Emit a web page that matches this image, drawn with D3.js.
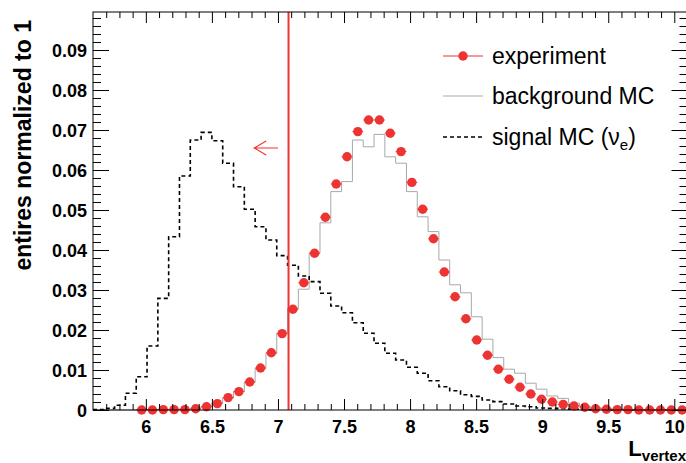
<!DOCTYPE html>
<html><head><meta charset="utf-8">
<script src="https://cdn.jsdelivr.net/npm/d3@7"></script>
<style>html,body{margin:0;padding:0;background:#fff;}svg{display:block;}</style>
</head><body>
<svg id="c" width="686" height="463"></svg>
<script>
// histogram binning (55 bins from 5.6 to 10.1)
const binLow = 5.6, binHigh = 10.1, nBins = 55;
// experiment (bins 0..54), null = not drawn
const experiment = [null,null,null,null,
  0.0000,0.0000,0.0001,0.0001,0.0001,0.0003,0.0008,0.0016,0.0031,0.0046,
  0.0070,0.0105,0.0143,0.0191,0.0252,0.0318,0.0392,0.0482,0.0565,0.0633,
  0.0696,0.0725,0.0725,0.0692,0.0646,0.0569,0.0502,0.0428,0.0345,0.0283,
  0.0228,0.0175,0.0137,0.0102,0.0077,0.0057,0.0040,0.0027,0.0020,0.0014,
  0.0010,0.0007,0.0003,0.0002,0.0001,0.0001,0.0000,0.0000,0.0000,0.0000,0.0000];
const backgroundMC = [0,0,0,0,
  0.0001,0.0001,0.0002,0.0002,0.0003,0.0005,0.0009,0.0017,0.0030,0.0046,
  0.0069,0.0104,0.0142,0.0192,0.0254,0.0302,0.0392,0.0468,0.0546,0.0571,
  0.0675,0.0658,0.0689,0.0633,0.0617,0.0546,0.0483,0.0446,0.0375,0.0313,
  0.0293,0.0233,0.0177,0.0131,0.0102,0.0092,0.0067,0.0052,0.0035,0.0029,
  0.0017,0.0010,0.0006,0.0004,0.0002,0.0001,0,0,0,0,0];
const signalMC = [0.0001,0.0004,0.0012,0.0042,
  0.0083,0.0160,0.0279,0.0433,0.0585,0.0675,0.0694,0.0673,0.0617,0.0558,
  0.0502,0.0458,0.0425,0.0386,0.0362,0.0335,0.0321,0.0292,0.0260,0.0243,
  0.0218,0.0192,0.0167,0.0142,0.0125,0.0107,0.0092,0.0073,0.0058,0.0048,
  0.0038,0.0034,0.0025,0.0021,0.0015,0.0010,0.0008,0.0005,0.0004,0.0003,
  0.0002,0.0001,0,0,0,0,0,0,0,0,0];
const xTickValues = [6,6.5,7,7.5,8,8.5,9,9.5,10];
const xTickLabels = ["6","6.5","7","7.5","8","8.5","9","9.5","10"];
const yTickValues = [0,0.01,0.02,0.03,0.04,0.05,0.06,0.07,0.08,0.09];
const yTickLabels = ["0","0.01","0.02","0.03","0.04","0.05","0.06","0.07","0.08","0.09"];
const cutValue = 7.08;
const arrowFrom = 7.0, arrowTo = 6.82, arrowLevel = 0.0655;
const legendItems = ["experiment","background MC","signal MC"];

const svg = d3.select("#c");
const L = 93, R = 687.5, T = 12, B = 410;
const x = d3.scaleLinear().domain([binLow, binHigh]).range([L, R]);
const y = d3.scaleLinear().domain([0, 0.0995]).range([B, T]);
const bw = (binHigh - binLow) / nBins;
const edge = i => binLow + i * bw;

const RED = "#ee3333";
const bold = "'Liberation Sans', Arial, Helvetica, sans-serif";

function stepPath(vals) {
  let p = `M${x(edge(0))},${y(vals[0])}`;
  vals.forEach((v, i) => {
    p += `L${x(edge(i))},${y(v)}L${x(edge(i + 1))},${y(v)}`;
  });
  return p;
}

// background MC
svg.append("path").attr("d", stepPath(backgroundMC))
  .attr("fill", "none").attr("stroke", "#a8a8a8").attr("stroke-width", 1);

// signal MC
svg.append("path").attr("d", stepPath(signalMC))
  .attr("fill", "none").attr("stroke", "#000").attr("stroke-width", 1.6)
  .attr("stroke-dasharray", "4,3");

// experiment
const expPts = experiment.map((v, i) => ({ v, i })).filter(d => d.v !== null);
svg.append("g").selectAll("line").data(expPts).join("line")
  .attr("x1", d => x(edge(d.i))).attr("x2", d => x(edge(d.i + 1)))
  .attr("y1", d => y(d.v)).attr("y2", d => y(d.v))
  .attr("stroke", RED).attr("stroke-width", 1);
svg.append("g").selectAll("circle").data(expPts).join("circle")
  .attr("cx", d => x(edge(d.i) + bw / 2)).attr("cy", d => y(d.v))
  .attr("r", 4.7).attr("fill", RED);

// cut line
svg.append("line").attr("x1", x(cutValue)).attr("x2", x(cutValue))
  .attr("y1", T).attr("y2", B).attr("stroke", RED).attr("stroke-width", 2);
// arrow
const ay = y(arrowLevel), ax0 = x(arrowFrom), ax1 = x(arrowTo);
svg.append("path")
  .attr("d", `M${ax0},${ay}L${ax1},${ay}M${ax1 + 12},${ay - 7}L${ax1},${ay}L${ax1 + 12},${ay + 7}`)
  .attr("fill", "none").attr("stroke", RED).attr("stroke-width", 1.1);

// frame
svg.append("rect").attr("x", L).attr("y", T).attr("width", R - L).attr("height", B - T)
  .attr("fill", "none").attr("stroke", "#000").attr("stroke-width", 1);

// axes ticks
const xMinor = d3.range(57, 101).map(k => k / 10).filter(v => Math.abs(v * 2 - Math.round(v * 2)) > 1e-6);
const yMinor = d3.range(1, 50).map(k => k * 0.002).filter(v => Math.abs(v * 100 - Math.round(v * 100)) > 1e-6);

function addAxis(axis, tr) {
  const g = svg.append("g").attr("transform", tr).call(axis);
  g.select(".domain").remove();
  g.selectAll("line").attr("stroke", "#000").attr("stroke-width", 1);
  return g;
}
const gxb = addAxis(d3.axisBottom(x).tickValues(xTickValues).tickSize(-11)
  .tickFormat((d, i) => xTickLabels[i]), `translate(0,${B})`);
gxb.selectAll("text").attr("y", 10).attr("dy", "0.71em")
  .attr("font-family", bold).attr("font-weight", "bold").attr("font-size", 18).attr("fill", "#000");
addAxis(d3.axisBottom(x).tickValues(xMinor).tickSize(-6).tickFormat(""), `translate(0,${B})`);
addAxis(d3.axisTop(x).tickValues(xTickValues).tickSize(-11).tickFormat(""), `translate(0,${T})`);
addAxis(d3.axisTop(x).tickValues(xMinor).tickSize(-6).tickFormat(""), `translate(0,${T})`);

const gyl = addAxis(d3.axisLeft(y).tickValues(yTickValues).tickSize(-16)
  .tickFormat((d, i) => yTickLabels[i]), `translate(${L},0)`);
gyl.selectAll("text").attr("x", -6).attr("dy", "0.35em").attr("text-anchor", "end")
  .attr("font-family", bold).attr("font-weight", "bold").attr("font-size", 18).attr("fill", "#000");
addAxis(d3.axisLeft(y).tickValues(yMinor).tickSize(-8).tickFormat(""), `translate(${L},0)`);
addAxis(d3.axisRight(y).tickValues(yTickValues).tickSize(-16).tickFormat(""), `translate(${R},0)`);
addAxis(d3.axisRight(y).tickValues(yMinor).tickSize(-8).tickFormat(""), `translate(${R},0)`);

// axis titles
svg.append("text").attr("transform", "translate(31,20) rotate(-90)")
  .attr("text-anchor", "end").attr("font-family", bold).attr("font-weight", "bold")
  .attr("font-size", 23).text("entires normalized to 1");
const xt = svg.append("text").attr("x", 686).attr("y", 456).attr("text-anchor", "end")
  .attr("font-family", bold).attr("font-weight", "bold");
xt.append("tspan").attr("font-size", 22).text("L");
xt.append("tspan").attr("font-size", 15).attr("dy", 5).text("vertex");

// legend
const lx0 = 443, lx1 = 483, ly = [56, 96, 137];
const lg = svg.append("g");
lg.append("line").attr("x1", lx0).attr("x2", lx1).attr("y1", ly[0]).attr("y2", ly[0]).attr("stroke", RED).attr("stroke-width", 1);
lg.append("circle").attr("cx", (lx0 + lx1) / 2).attr("cy", ly[0]).attr("r", 4.7).attr("fill", RED);
lg.append("line").attr("x1", lx0).attr("x2", lx1).attr("y1", ly[1]).attr("y2", ly[1]).attr("stroke", "#a8a8a8").attr("stroke-width", 1.2);
lg.append("line").attr("x1", lx0).attr("x2", lx1).attr("y1", ly[2]).attr("y2", ly[2]).attr("stroke", "#000").attr("stroke-width", 1.6).attr("stroke-dasharray", "4,3");
legendItems.forEach((t, i) => {
  const tx = lg.append("text").attr("x", 492).attr("y", ly[i] + 8)
    .attr("font-family", bold).attr("font-size", 23).attr("fill", "#000");
  tx.append("tspan").text(t);
  if (i === 2) {
    tx.append("tspan").text(" (ν");
    tx.append("tspan").attr("font-size", 15).attr("dy", 5).text("e");
    tx.append("tspan").attr("dy", -5).text(")");
  }
});
</script>
</body></html>
